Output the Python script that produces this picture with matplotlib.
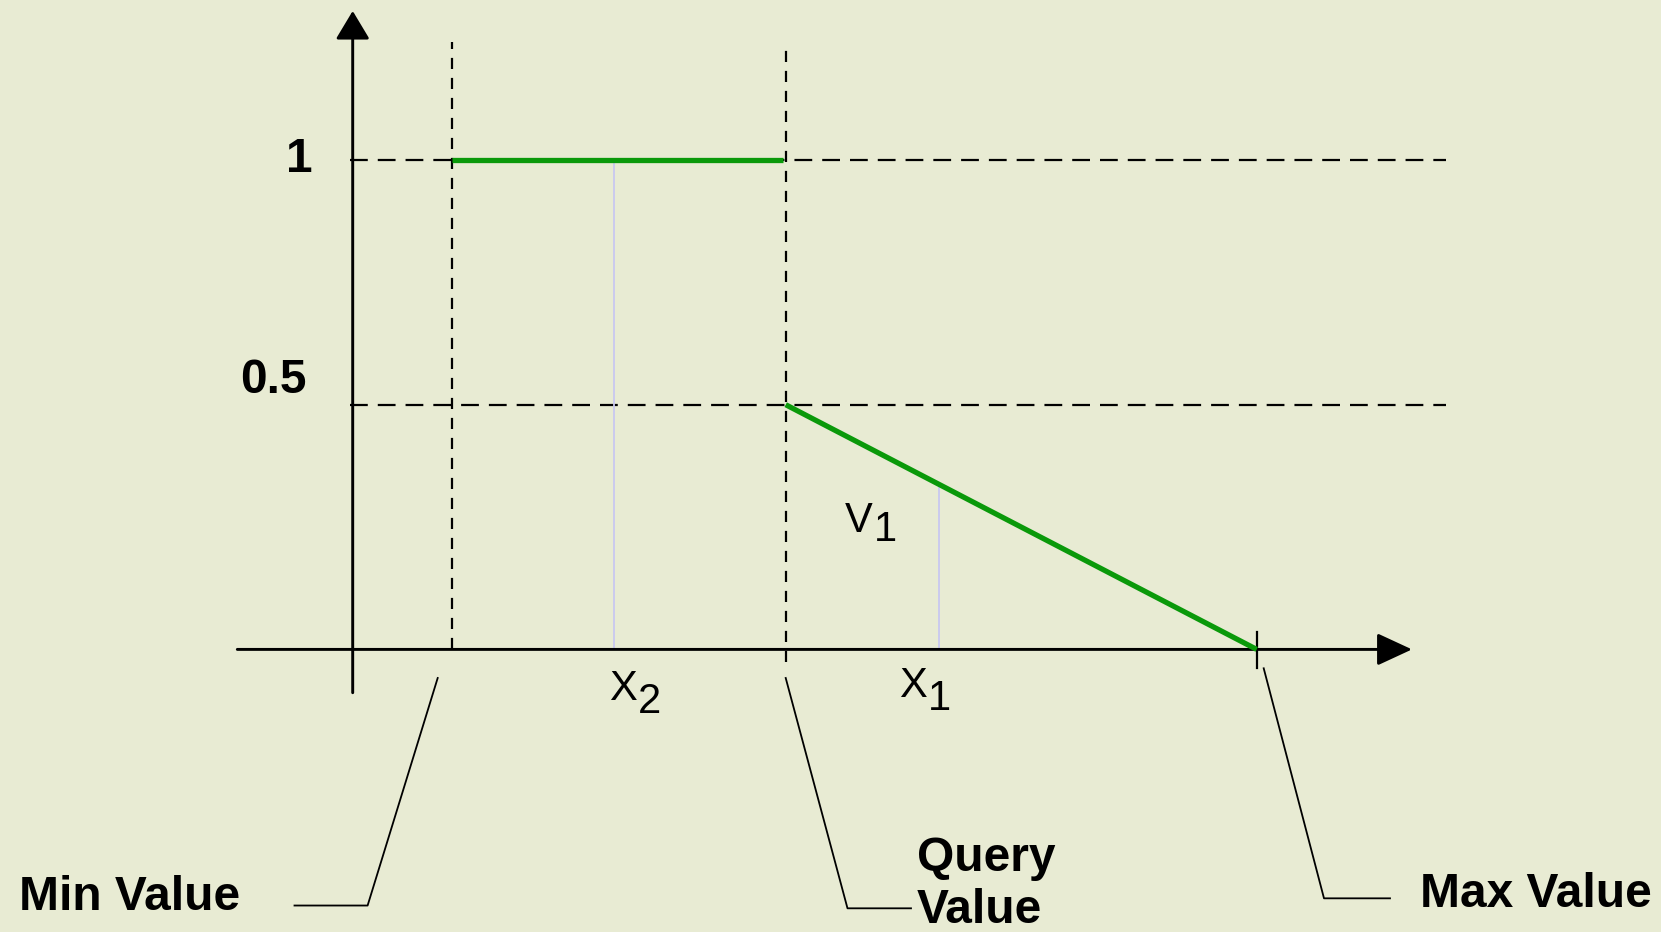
import matplotlib.pyplot as plt

# values
min_value = 0.99
query_value = 4.33
max_value = 9.04
y_levels = [0.5, 1.0]
y_labels = ['0.5', '1']
sample_x = [2.61, 5.86]          # X2, X1
sample_v = [1.0, 0.34]           # membership at X2, X1
sample_names = ['2', '1']

bg = '#e8ebd3'
green = '#0a990a'
lavender = '#c8c8f0'
bold = dict(family=['Liberation Sans', 'DejaVu Sans'], fontweight='bold', fontsize=34.5)
regular = dict(family=['Liberation Sans', 'DejaVu Sans'], fontsize=30)

fig = plt.figure(figsize=(16.61, 9.32), dpi=100, facecolor=bg)
ax = fig.add_axes([0, 0, 1, 1])
ax.set_facecolor(bg)
ax.set_xlim(-3.527, 13.083)
ax.set_ylim(-0.5774, 1.3269)
ax.axis('off')

# axes with arrow heads
ax.annotate('', xy=(10.593, 0), xytext=(-1.154, 0),
            arrowprops=dict(arrowstyle='-|>,head_length=2.16,head_width=1.0',
                            lw=2.1, color='black', shrinkA=0, shrinkB=0))
ax.annotate('', xy=(0, 1.3045), xytext=(0, -0.0885),
            arrowprops=dict(arrowstyle='-|>,head_length=1.75,head_width=1.05',
                            lw=2.1, color='black', shrinkA=0, shrinkB=0))

# dashed guides
for lvl in y_levels:
    ax.plot([-0.03, 10.93], [lvl, lvl], color='black', lw=1.6, dashes=(8, 4.5))
ax.plot([min_value, min_value], [0, 1.241], color='black', lw=1.6, dashes=(5, 4))
ax.plot([query_value, query_value], [-0.026, 1.241], color='black', lw=1.6, dashes=(5, 4))

# max tick
ax.plot([max_value, max_value], [-0.038, 0.036], color='black', lw=1.6)

# sample lines
for sx, sv in zip(sample_x, sample_v):
    ax.plot([sx, sx], [0, sv], color=lavender, lw=1.3, zorder=2)

# membership function
ax.plot([min_value, query_value - 0.03], [1, 1], color=green, lw=3.8,
        solid_capstyle='butt', zorder=3)
ax.plot([query_value, max_value], [0.5, 0], color=green, lw=3.8,
        solid_capstyle='butt', zorder=3)

# y tick labels
ax.text(-0.397, 0.9755, y_labels[1], ha='right', va='baseline', **bold)
ax.text(-0.457, 0.524, y_labels[0], ha='right', va='baseline', **bold)

# sample labels
for sx, name, dx, dy in zip(sample_x, sample_names, [-0.05, -0.40], [-0.1034, -0.097]):
    ax.text(sx + dx, dy, 'X', ha='left', va='baseline', **regular)
    ax.text(sx + dx + 0.29, dy - 0.027, name, ha='left', va='baseline', **regular)
ax.text(4.923, 0.240, 'V', ha='left', va='baseline', **regular)
ax.text(5.213, 0.2215, sample_names[1], ha='left', va='baseline', **regular)

# leader lines and callouts
ax.plot([min_value - 0.14, 0.149, -0.582], [-0.0584, -0.5233, -0.5233], color='black', lw=1.3)
ax.plot([query_value, 4.948, 5.583], [-0.0584, -0.529, -0.529], color='black', lw=1.3)
ax.plot([max_value + 0.07, 9.713, 10.373], [-0.0386, -0.5086, -0.5086], color='black', lw=1.3)

ax.text(-3.337, -0.5327, 'Min Value', ha='left', va='baseline', **bold)
ax.text(5.643, -0.452, 'Query', ha='left', va='baseline', **bold)
ax.text(5.643, -0.560, 'Value', ha='left', va='baseline', **bold)
ax.text(10.668, -0.5258, 'Max Value', ha='left', va='baseline', **bold)

fig.savefig('out.png', dpi=100, facecolor=bg)
